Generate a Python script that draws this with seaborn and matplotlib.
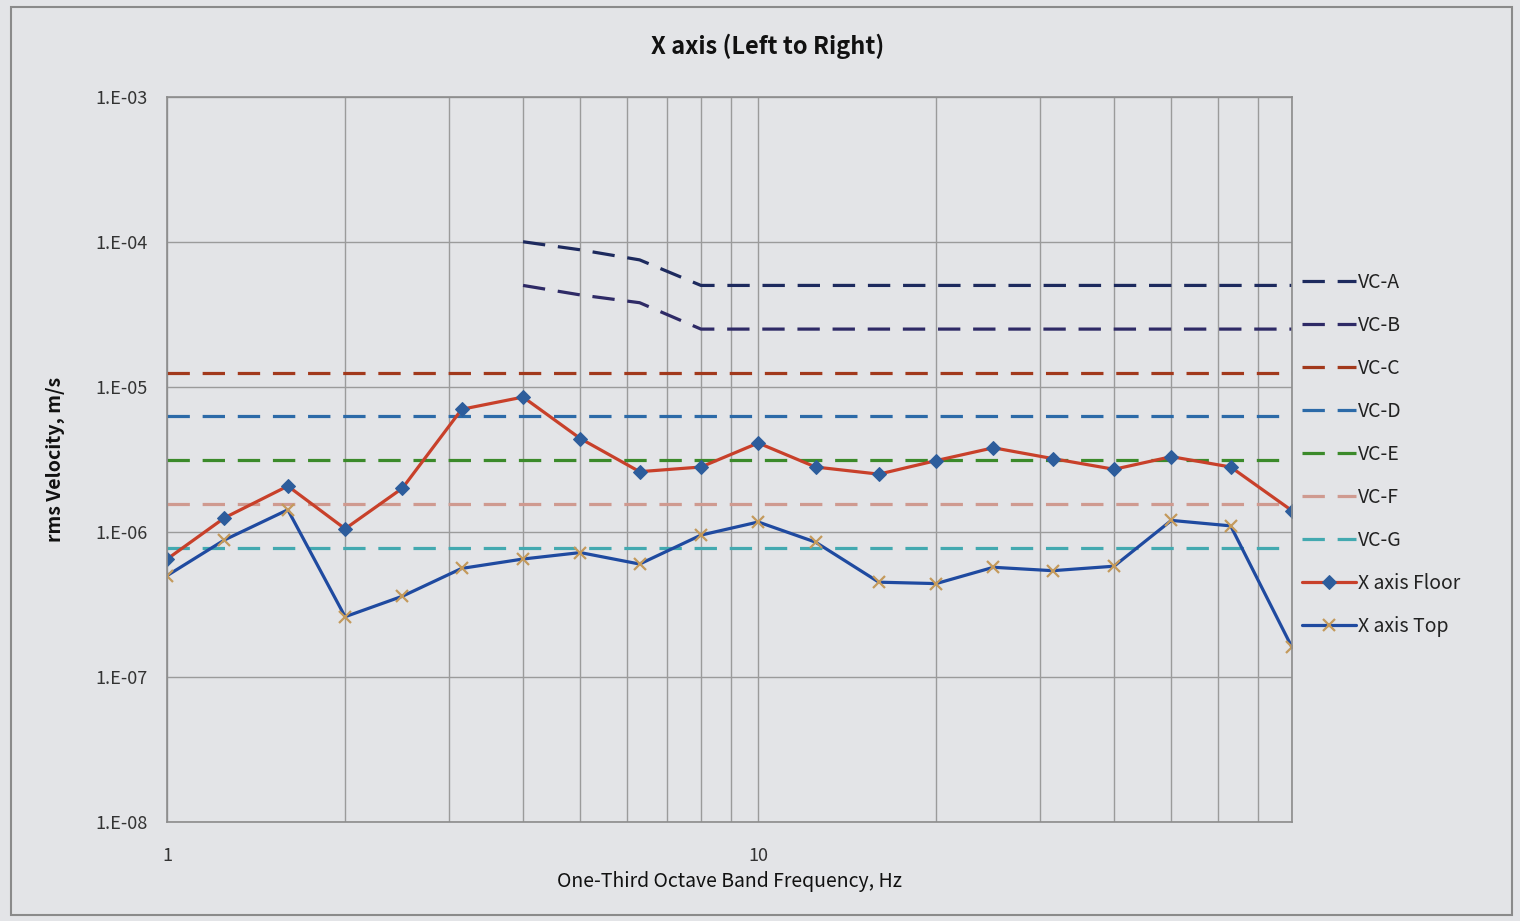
import numpy as np
import pandas as pd
import matplotlib.pyplot as plt
import matplotlib.ticker as mticker
from matplotlib.patches import Rectangle
import seaborn as sns

# one-third octave band centre frequencies, Hz
freq = [1, 1.25, 1.6, 2, 2.5, 3.15, 4, 5, 6.3, 8, 10, 12.5, 16, 20, 25, 31.5, 40, 50, 63, 80]

# measured rms velocity, m/s
floor_vel = [6.5e-7, 1.25e-6, 2.07e-6, 1.05e-6, 2.0e-6, 7.0e-6, 8.5e-6, 4.4e-6, 2.6e-6, 2.8e-6,
             4.1e-6, 2.8e-6, 2.5e-6, 3.1e-6, 3.8e-6, 3.2e-6, 2.7e-6, 3.3e-6, 2.8e-6, 1.4e-6]
top_vel = [5.0e-7, 8.8e-7, 1.42e-6, 2.6e-7, 3.6e-7, 5.6e-7, 6.5e-7, 7.2e-7, 6.0e-7, 9.5e-7,
           1.17e-6, 8.5e-7, 4.5e-7, 4.4e-7, 5.7e-7, 5.4e-7, 5.8e-7, 1.2e-6, 1.1e-6, 1.6e-7]

# VC criteria
vc_ab_freq = [4, 5, 6.3, 8, 10, 12.5, 16, 20, 25, 31.5, 40, 50, 63, 80]
vc_a = [1.0e-4, 8.8e-5, 7.5e-5, 5.0e-5] + [5.0e-5] * 10
vc_b = [5.0e-5, 4.3e-5, 3.8e-5, 2.5e-5] + [2.5e-5] * 10
vc_flat = {"VC-C": 12.5e-6, "VC-D": 6.25e-6, "VC-E": 3.12e-6, "VC-F": 1.56e-6, "VC-G": 0.78e-6}

vc_colors = {"VC-A": "#1d2a5e", "VC-B": "#2e2a66", "VC-C": "#a2391c", "VC-D": "#2c6aa8",
             "VC-E": "#3b8a2a", "VC-F": "#cf9a90", "VC-G": "#43a9b0"}

sns.set_style("white")
plt.rcParams['font.family'] = ['Noto Sans CJK KR', 'DejaVu Sans']

bg = "#e3e4e7"
fig = plt.figure(figsize=(15.2, 9.21), dpi=100, facecolor=bg)
ax = fig.add_axes([0.11, 0.1075, 0.74, 0.7875])
ax.set_facecolor(bg)

dash = (7, 4)
sns.lineplot(x=vc_ab_freq, y=vc_a, ax=ax, color=vc_colors["VC-A"], lw=2.3, label="VC-A")
sns.lineplot(x=vc_ab_freq, y=vc_b, ax=ax, color=vc_colors["VC-B"], lw=2.3, label="VC-B")
for name, val in vc_flat.items():
    sns.lineplot(x=freq, y=[val] * len(freq), ax=ax, color=vc_colors[name], lw=2.3, label=name)
for ln in ax.get_lines():
    ln.set_dashes(dash)

sns.lineplot(x=freq, y=floor_vel, ax=ax, color="#c8402a", lw=2.3, marker="D", markersize=7,
             markerfacecolor="#2d5d9c", markeredgecolor="#2d5d9c", label="X axis Floor")
sns.lineplot(x=freq, y=top_vel, ax=ax, color="#1f4aa0", lw=2.3, marker="x", markersize=9,
             markeredgewidth=1.6, markeredgecolor="#c49a5c", label="X axis Top")

ax.set_xscale("log")
ax.set_yscale("log")
ax.set_xlim(1, 80)
ax.set_ylim(1e-8, 1e-3)

ax.xaxis.set_major_locator(mticker.FixedLocator([1, 10]))
ax.xaxis.set_minor_locator(mticker.LogLocator(base=10, subs=np.arange(2, 10)))
ax.xaxis.set_major_formatter(mticker.FuncFormatter(lambda v, p: f"{v:g}"))
ax.xaxis.set_minor_formatter(mticker.NullFormatter())
ax.yaxis.set_major_locator(mticker.LogLocator(base=10, numticks=10))
ax.yaxis.set_minor_locator(mticker.NullLocator())
ax.yaxis.set_major_formatter(mticker.FuncFormatter(lambda v, p: f"1.E{int(round(np.log10(v))):03d}"))

ax.grid(True, which="both", axis="x", color="#9b9b9b", lw=1)
ax.grid(True, which="major", axis="y", color="#9b9b9b", lw=1)
ax.tick_params(which="both", length=0, labelsize=13, colors="#333333")
ax.tick_params(axis="x", pad=18)
ax.tick_params(axis="y", pad=14)
for s in ax.spines.values():
    s.set_color("#8c8c8c")
    s.set_linewidth(1.2)

# Excel centres the title on the whole chart area
fig.text(0.505, 0.95, "X axis (Left to Right)", fontsize=17, fontweight="bold",
         ha="center", va="center", color="#111111")
ax.set_xlabel("One-Third Octave Band Frequency, Hz", fontsize=14, labelpad=4, color="#111111")
ax.set_ylabel("rms Velocity, m/s", fontsize=14, fontweight="bold", labelpad=22, color="#111111")

leg = ax.legend(loc="center left", bbox_to_anchor=(1.0, 0.507), frameon=False, fontsize=14,
                handlelength=2.8, labelspacing=1.13, handletextpad=0.1,
                borderaxespad=0, borderpad=0.5)
for t in leg.get_texts():
    t.set_color("#222222")

fig.patches.append(Rectangle((0.007, 0.007), 0.988, 0.985, transform=fig.transFigure,
                             fill=False, edgecolor="#8a8a8a", lw=1.5))

fig.savefig("out.png", dpi=100, facecolor=bg)
